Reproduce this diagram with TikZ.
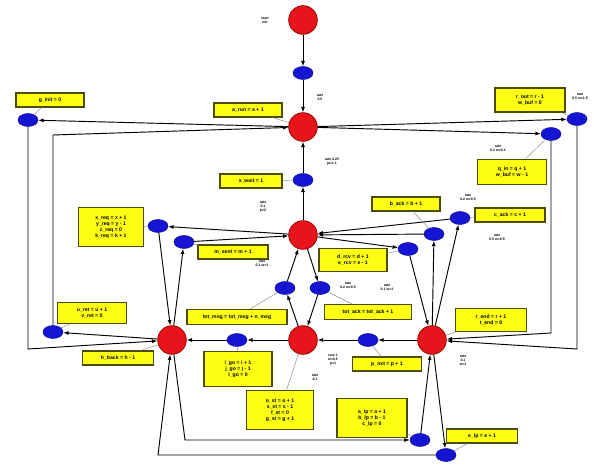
\documentclass[tikz,border=0pt]{standalone}
\usepackage{fontspec}
\setmainfont{Liberation Sans}
\usetikzlibrary{arrows.meta, shapes.geometric}
\definecolor{pred}{HTML}{E8141B}
\definecolor{pblue}{HTML}{1414D2}
\definecolor{pyel}{HTML}{FFFF14}
\definecolor{pgrey}{HTML}{8C8C8C}
\tikzset{
  every picture/.style={line width=0.8pt},
  place/.style={circle, draw=red!55!black, fill=pred, minimum size=8.6mm, inner sep=0pt, line width=0.6pt},
  trans/.style={ellipse, draw=pblue!70!black, fill=pblue, minimum width=6mm, minimum height=3.9mm, inner sep=0pt, line width=0.4pt},
  note/.style={draw=black!70!pyel, fill=pyel, line width=0.9pt, align=center, inner sep=0pt,
    font=\fontsize{4.4}{5}\selectfont\bfseries},
  tag/.style={align=center, font=\fontsize{3}{3.5}\selectfont\bfseries},
  arc/.style={-{Latex[length=1.6mm, width=1.2mm]}, draw=black},
  lead/.style={draw=pgrey, line width=0.4pt},
}

\begin{document}
\begin{tikzpicture}[x=0.3mm, y=-0.3mm]
  \useasboundingbox (0,0) rectangle (594,465);
  % places
  \foreach \n/\x/\y in {p0/303/20, p1/303/127, p2/303/235, p3/172/340, p4/303/340, p5/432/340}
    \node[place] (\n) at (\x,\y) {};
  % transitions
  \foreach \n/\x/\y in {t0/303/73, t1/303/180, tl1/28/120, tl2/53/332, tr1/577/119, tr2/551/134,
      ta/158/226, tb/184/242, tc/460/218, td/434/234, te/408/249, tf/285/288, tg/320/288,
      th/237/340, ti/368/340, tj/420/440, tk/446/455}
    \node[trans] (\n) at (\x,\y) {};
  % bends
  \coordinate (cl1) at (28,349);
  \coordinate (cl2) at (53,135);
  \coordinate (cr1) at (577,349);
  \coordinate (cr2) at (551,333);
  \coordinate (cb1) at (185,440);
  \coordinate (cb2) at (158,455);
  % arcs
  \foreach \a/\b in {p0/t0, t0/p1, p2/t1, t1/p1, p1/tl1, p3/tl2, p1/tr1, p1/tr2,
      p2/ta, ta/p3, p3/tb, tb/p2, p5/tc, tc/p2, p5/td, td/p2, p2/te, te/p5,
      p4/tf, tf/p2, p2/tg, tg/p4, p4/th, th/p3, p5/ti, ti/p4, tj/p5, p5/tk}
    \draw[arc] (\a) -- (\b);
  \draw[arc] (tl1) -- (cl1) -- (p3);
  \draw[arc] (tl2) -- (cl2) -- (p1);
  \draw[arc] (tr1) -- (cr1) -- (p5);
  \draw[arc] (tr2) -- (cr2) -- (p5);
  \draw[arc] (p3) -- (cb1) -- (tj);
  \draw[arc] (tk) -- (cb2) -- (p3);
  % notes
  \foreach \n/\x/\y/\w/\h/\t in {
      n1/50/100/20.4mm/4.2mm/{g\_init = 0},
      n2/248/110/20.4mm/4.2mm/{a\_run = a + 1},
      n3/530/100/21mm/7.2mm/{r\_out = r - 1\\w\_buf = 0},
      n4/512/172/20.7mm/7.5mm/{q\_in = q + 1\\w\_buf = w - 1},
      n5/251/181/18.6mm/4.2mm/{s\_wait = 1},
      n6/406/204/20.4mm/4.2mm/{b\_ack = b + 1},
      n7/510/215/21mm/4.2mm/{c\_ack = c + 1},
      n8/111/227/19.5mm/11.7mm/{x\_req = x + 1\\y\_req = y - 1\\z\_req = 0\\k\_req = k + 1},
      n9/233/252/21mm/4.2mm/{m\_sent = m + 1},
      n10/353/260/20.4mm/6.9mm/{d\_rcv = d + 1\\e\_rcv = e - 1},
      n11/92/313/20.7mm/6.3mm/{u\_ret = u + 1\\v\_ret = 0},
      n12/237/317/30mm/4.5mm/{tot\_msg = tot\_msg + n\_msg},
      n13/368/312/26.1mm/4.5mm/{tot\_ack = tot\_ack + 1},
      n14/118/358/21.3mm/4.2mm/{h\_back = h - 1},
      n15/238/369/20.4mm/10.5mm/{i\_go = i + 1\\j\_go = j - 1\\l\_go = 0},
      n16/280/410/20.1mm/11.7mm/{o\_st = o + 1\\s\_st = s - 1\\f\_st = 0\\g\_st = g + 1},
      n17/387/364/20.7mm/4.2mm/{p\_nxt = p + 1},
      n18/491/320/21.3mm/6.9mm/{r\_end = r + 1\\t\_end = 0},
      n19/372/418/21mm/11.7mm/{a\_lp = a + 1\\b\_lp = b - 1\\c\_lp = 0},
      n20/482/436/21.3mm/4.2mm/{e\_lp = e + 1}}
    \node[note, minimum width=\w, minimum height=\h] (\n) at (\x,\y) {\t};
  % leaders
  \foreach \a/\b in {n1/tl1, n2/p1, n3/tr1, n4/tr2, n5/t1, n6/td, n7/tc, n8/ta, n9/tb, n10/te,
      n11/tl2, n12/tf, n13/tg, n14/p3, n15/th, n16/p4, n17/ti, n18/p5, n19/tj, n20/tk}
    \draw[lead] (\a) -- (\b);
  % small tags
  \foreach \n/\x/\y/\t in {
      s0/265/20/{start\\init},
      s1/320/97/{rate\\0.5},
      s2/332/162/{rate 0.25\\prio 1},
      s3/263/207/{rate\\0.1\\p=2},
      s4/262/263/{rate\\0.1 w=1},
      s5/580/96/{rate\\0.5 w=1.5},
      s6/498/148/{rate\\0.2 w=0.1},
      s7/468/197/{rate\\0.2 w=0.5},
      s8/497/237/{rate\\0.5 w=0.5},
      s9/348/285/{rate\\0.2 w=0.5},
      s10/387/287/{rate\\0.1 w=1},
      s11/333/360/{rate 1\\w=0.5\\p=1},
      s12/315/377/{rate\\0.1},
      s13/463/360/{rate\\0.1\\w=1}}
    \node[tag] (\n) at (\x,\y) {\t};
\end{tikzpicture}
\end{document}
